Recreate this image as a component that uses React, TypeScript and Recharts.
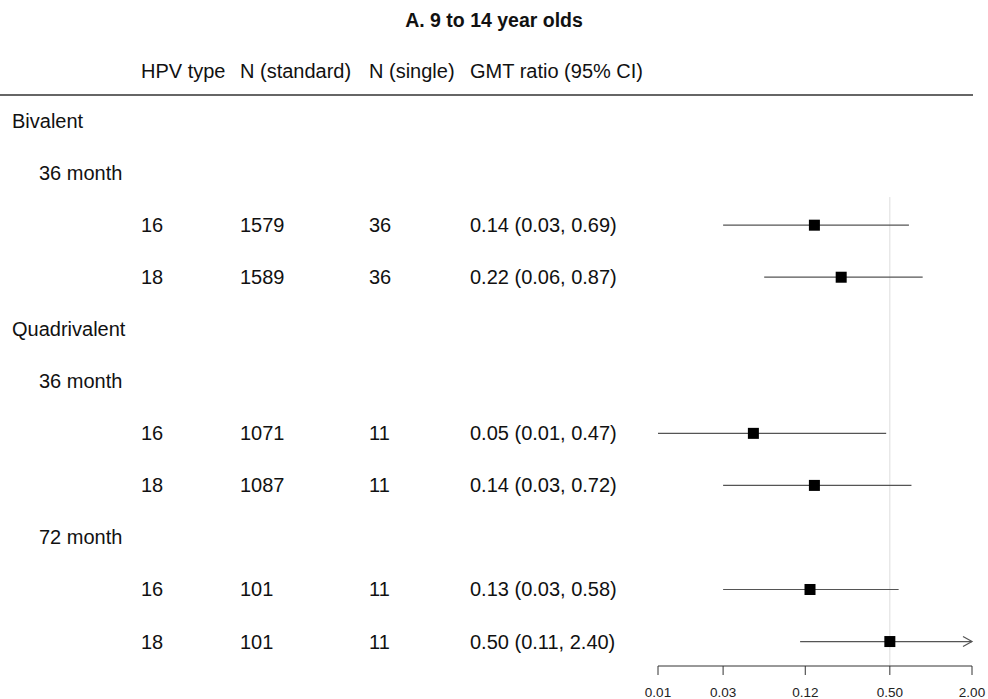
import React from 'react';
import { ComposedChart, XAxis, YAxis, Scatter, ReferenceLine } from 'recharts';

const title = 'A. 9 to 14 year olds';
const headers = ['HPV type', 'N (standard)', 'N (single)', 'GMT ratio (95% CI)'];

// one entry per row of the table, top to bottom
const rowLabels = ['Bivalent', '36 month', '16', '18', 'Quadrivalent', '36 month', '16', '18', '72 month', '16', '18'];
const rowKinds = ['group', 'sub', 'data', 'data', 'group', 'sub', 'data', 'data', 'sub', 'data', 'data'];
const nStandard = [null, null, 1579, 1589, null, null, 1071, 1087, null, 101, 101];
const nSingle = [null, null, 36, 36, null, null, 11, 11, null, 11, 11];
const gmtRatio = [null, null, 0.14, 0.22, null, null, 0.05, 0.14, null, 0.13, 0.5];
const ciLower = [null, null, 0.03, 0.06, null, null, 0.01, 0.03, null, 0.03, 0.11];
const ciUpper = [null, null, 0.69, 0.87, null, null, 0.47, 0.72, null, 0.58, 2.4];

const xTicks = [0.01, 0.03, 0.12, 0.5, 2];
const refValue = 0.5;

const X_MIN = 0.01;
const X_MAX = 2;
const Y_MIN = -2;
const Y_MAX = 10.47;
const TITLE_ROW = -1.93;
const HEADER_ROW = -0.96;
const RULE_ROW = -0.5;
const REF_START = 1.46;

const FONT = '"Liberation Sans", Arial, Helvetica, sans-serif';
const colX = [141, 240, 369, 470];

const points = gmtRatio
  .map((v, i) => (v == null ? null : { row: i, est: v, lo: ciLower[i] as number, hi: ciUpper[i] as number }))
  .filter((p): p is { row: number; est: number; lo: number; hi: number } => p !== null);

const yTicks = [TITLE_ROW, HEADER_ROW, RULE_ROW, ...rowLabels.map((_, i) => i)];

const fmt = (v: number) => v.toFixed(2);

const RowTick = (props: any) => {
  const { y, payload } = props;
  const v = payload.value;
  const textProps = { fontFamily: FONT, fontSize: 20, fill: '#111', dy: '0.35em' };
  if (v === TITLE_ROW) {
    return (
      <text x={494} y={y} textAnchor="middle" {...textProps} fontSize={19.5} fontWeight="bold">
        {title}
      </text>
    );
  }
  if (v === HEADER_ROW) {
    return (
      <g>
        {headers.map((h, j) => (
          <text key={h} x={colX[j]} y={y} {...textProps}>
            {h}
          </text>
        ))}
      </g>
    );
  }
  if (v === RULE_ROW) {
    return <line x1={0} x2={973} y1={y} y2={y} stroke="#333" strokeWidth={1.5} />;
  }
  const i = v as number;
  const kind = rowKinds[i];
  if (kind === 'group') {
    return <text x={12} y={y} {...textProps}>{rowLabels[i]}</text>;
  }
  if (kind === 'sub') {
    return <text x={39} y={y} {...textProps}>{rowLabels[i]}</text>;
  }
  return (
    <g>
      <text x={colX[0]} y={y} {...textProps}>{rowLabels[i]}</text>
      <text x={colX[1]} y={y} {...textProps}>{nStandard[i]}</text>
      <text x={colX[2]} y={y} {...textProps}>{nSingle[i]}</text>
      <text x={colX[3]} y={y} {...textProps}>
        {`${fmt(gmtRatio[i] as number)} (${fmt(ciLower[i] as number)}, ${fmt(ciUpper[i] as number)})`}
      </text>
    </g>
  );
};

const ciShape = (arrow: boolean) => (p: any) => {
  const { x1, y1, x2, y2 } = p;
  return (
    <g>
      <line x1={x1} y1={y1} x2={x2} y2={y2} stroke="#555" strokeWidth={1.2} />
      {arrow && (
        <polyline
          points={`${x2 - 9},${y2 - 5} ${x2},${y2} ${x2 - 9},${y2 + 5}`}
          fill="none"
          stroke="#555"
          strokeWidth={1.2}
        />
      )}
    </g>
  );
};

const SquareShape = (p: any) => {
  const { cx, cy } = p;
  return <rect x={cx - 5.5} y={cy - 5.5} width={11} height={11} fill="#000" />;
};

export default function App() {
  return (
    <div style={{ position: 'absolute', left: 0, top: 0, width: 988, height: 699, background: '#fff' }}>
      <ComposedChart width={988} height={699} margin={{ top: 17, right: 16, bottom: 0, left: 0 }}>
        <XAxis
          type="number"
          dataKey="est"
          scale="log"
          domain={[X_MIN, X_MAX]}
          ticks={xTicks}
          interval={0}
          allowDataOverflow
          tickFormatter={fmt}
          height={33}
          tickSize={9}
          tickMargin={12}
          stroke="#333"
          tick={{ fontSize: 13.5, fill: '#222', fontFamily: FONT }}
        />
        <YAxis
          type="number"
          dataKey="row"
          domain={[Y_MIN, Y_MAX]}
          reversed
          allowDataOverflow
          ticks={yTicks}
          interval={0}
          width={658}
          axisLine={false}
          tickLine={false}
          tick={(p: any) => <RowTick {...p} />}
        />
        <ReferenceLine
          segment={[{ x: refValue, y: REF_START }, { x: refValue, y: Y_MAX }]}
          stroke="#ddd"
          strokeWidth={1}
        />
        {points.map((p) => (
          <ReferenceLine
            key={p.row}
            segment={[{ x: p.lo, y: p.row }, { x: Math.min(p.hi, X_MAX), y: p.row }]}
            shape={ciShape(p.hi > X_MAX)}
          />
        ))}
        <Scatter data={points} shape={<SquareShape />} isAnimationActive={false} />
      </ComposedChart>
    </div>
  );
}
